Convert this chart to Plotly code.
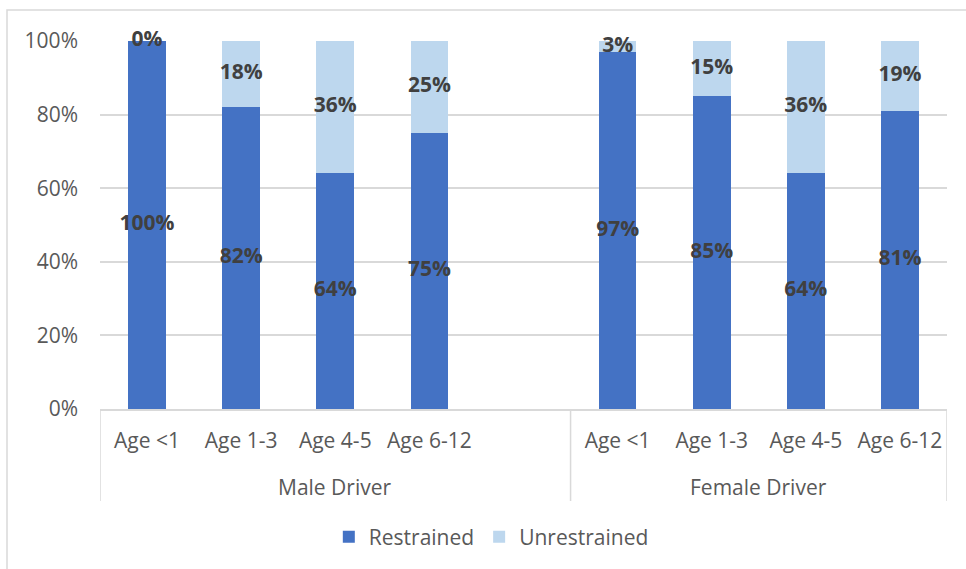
import plotly.graph_objects as go

# Category slots: four age groups per driver group, with one empty slot after the male group
age_groups = ["Age <1", "Age 1-3", "Age 4-5", "Age 6-12"]
driver_groups = ["Male Driver", "Female Driver"]
male_restrained = [100, 82, 64, 75]
male_unrestrained = [0, 18, 36, 25]
female_restrained = [97, 85, 64, 81]
female_unrestrained = [3, 15, 36, 19]

male_x = [0, 1, 2, 3]
female_x = [5, 6, 7, 8]
xs = male_x + female_x
restrained = [v / 100 for v in male_restrained + female_restrained]
unrestrained = [v / 100 for v in male_unrestrained + female_unrestrained]

C_RESTR = "#4472C4"
C_UNRESTR = "#BDD7EE"
FONT = "Open Sans"
TXT = "#595959"
FS = 21

fig = go.Figure()
fig.add_trace(go.Bar(x=xs, y=restrained, name="Restrained", marker_color=C_RESTR,
                     marker_line_width=0, width=0.4))
fig.add_trace(go.Bar(x=xs, y=unrestrained, name="Unrestrained", marker_color=C_UNRESTR,
                     marker_line_width=0, width=0.4))

# Value labels centred in each segment
r_mid = [r / 2 for r in restrained]
u_mid = [r + u / 2 for r, u in zip(restrained, unrestrained)]
label_font = dict(family=FONT, size=FS, color="#404040")
for mids, vals in ((r_mid, restrained), (u_mid, unrestrained)):
    fig.add_trace(go.Scatter(
        x=xs, y=mids, mode="text",
        text=[f"<b>{round(v * 100)}%</b>" for v in vals],
        textposition="middle center", textfont=label_font,
        showlegend=False, hoverinfo="skip", cliponaxis=False))

fig.update_layout(
    barmode="stack",
    width=966, height=569,
    margin=dict(l=100, r=19, t=41, b=160),
    paper_bgcolor="white", plot_bgcolor="white",
    font=dict(family=FONT, size=FS, color=TXT),
    showlegend=True,
    legend=dict(orientation="h", x=0.462, xanchor="center", y=-0.348, yanchor="middle",
                font=dict(family=FONT, size=FS, color=TXT), traceorder="normal",
                itemwidth=30, bgcolor="rgba(0,0,0,0)"),
)

fig.update_xaxes(
    range=[-0.5, 8.5],
    tickmode="array", tickvals=xs, ticktext=age_groups + age_groups,
    tickfont=dict(family=FONT, size=FS, color=TXT),
    showgrid=False, zeroline=False,
    showline=True, linecolor="#D9D9D9", linewidth=1.5,
    ticks="", ticklabelstandoff=12,
)
fig.update_yaxes(
    range=[0, 1], tickmode="linear", tick0=0, dtick=0.2, tickformat=".0%",
    tickfont=dict(family=FONT, size=FS, color=TXT),
    showgrid=True, gridcolor="#D9D9D9", gridwidth=1.5,
    zeroline=False, showline=False, ticks="", ticklabelstandoff=21,
)

# Group dividers below the category axis
for xv in (-0.5, 4.5, 8.5):
    fig.add_shape(type="line", xref="x", yref="paper", x0=xv, x1=xv, y0=0, y1=-0.25,
                  line=dict(color="#D9D9D9", width=1.5))

# Group labels
for label, xc in zip(driver_groups, (2, 6.5)):
    fig.add_annotation(x=xc, xref="x", y=-0.212, yref="paper", text=label,
                       showarrow=False, yanchor="middle",
                       font=dict(family=FONT, size=FS, color=TXT))

# Chart area frame
fig.add_shape(type="rect", xref="paper", yref="paper",
              x0=-0.1098, x1=1.2, y0=-0.6, y1=1.0842,
              line=dict(color="#D9D9D9", width=1.5), fillcolor="rgba(0,0,0,0)", layer="below")

fig.write_html("out.html")
